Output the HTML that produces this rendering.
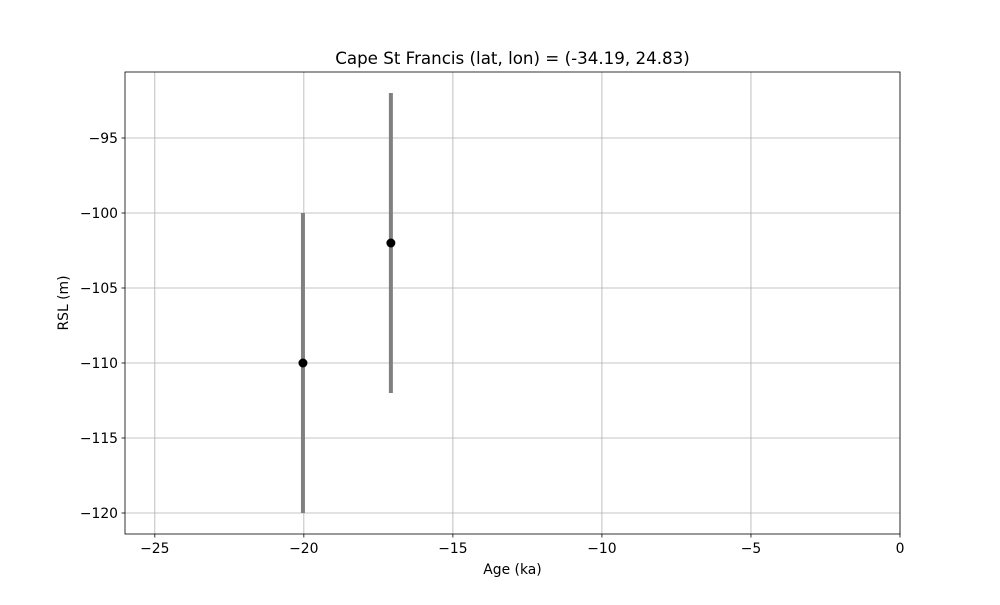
<!DOCTYPE html>
<html><head><meta charset="utf-8"><style>
body{margin:0;background:#fff;font-family:"Liberation Sans","DejaVu Sans",sans-serif;}
text{font-family:"DejaVu Sans","Liberation Sans",sans-serif;}
</style></head><body>
<svg id="chart" width="1000" height="600" xmlns="http://www.w3.org/2000/svg"></svg>
<script>
const ages = [-20.03, -17.08];
const rsl = [-110, -102];
const errLow = [10, 10];
const errHigh = [10, 10];
const xTicks = [-25, -20, -15, -10, -5, 0];
const yTicks = [-95, -100, -105, -110, -115, -120];

const L=125,R=900,T=72,B=534;
const xmin=-26,xmax=0,ymin=-121.4,ymax=-90.6;
const sx=v=>L+(v-xmin)/(xmax-xmin)*(R-L);
const sy=v=>B-(v-ymin)/(ymax-ymin)*(B-T);
const svg=document.getElementById('chart');
const NS='http://www.w3.org/2000/svg';
function mk(tag,attrs,parent){const e=document.createElementNS(NS,tag);for(const k in attrs)e.setAttribute(k,attrs[k]);(parent||svg).appendChild(e);return e;}

xTicks.forEach(t=>{
  const g=mk('line',{x1:sx(t),x2:sx(t),y1:T,y2:B,stroke:'#b0b0b0','stroke-width':0.8});
  
  
  mk('line',{x1:sx(t),x2:sx(t),y1:B,y2:B+3.5,stroke:'#000','stroke-width':0.8});
  const tx=mk('text',{x:sx(t),y:B+19,'text-anchor':'middle','font-size':13.9});
  tx.textContent=(t<0?'\u2212'+(-t):t);
  
  
});
yTicks.forEach(t=>{
  const g=mk('line',{x1:L,x2:R,y1:sy(t),y2:sy(t),stroke:'#b0b0b0','stroke-width':0.8});
  
  
  mk('line',{x1:L-3.5,x2:L,y1:sy(t),y2:sy(t),stroke:'#000','stroke-width':0.8});
  const tx=mk('text',{x:L-7,y:sy(t)+5,'text-anchor':'end','font-size':13.9});
  tx.textContent='\u2212'+(-t);
  
  
});
ages.forEach((a,i)=>{
  const e=mk('line',{x1:sx(a),x2:sx(a),y1:sy(rsl[i]+errHigh[i]),y2:sy(rsl[i]-errLow[i]),stroke:'#808080','stroke-width':4});
  
  
});
ages.forEach((a,i)=>{
  const p=mk('circle',{cx:sx(a),cy:sy(rsl[i]),r:4.5,fill:'#000'});
  
  
});
const frame=mk('rect',{x:L,y:T,width:R-L,height:B-T,fill:'none',stroke:'#000','stroke-width':0.8});


const title=mk('text',{x:(L+R)/2,y:64,'text-anchor':'middle','font-size':16.7});
title.textContent='Cape St Francis (lat, lon) = (-34.19, 24.83)';


const xl=mk('text',{x:(L+R)/2,y:574,'text-anchor':'middle','font-size':13.9});
xl.textContent='Age (ka)';


const yl=mk('text',{x:0,y:0,'text-anchor':'middle','font-size':13.9,transform:'translate(68,303) rotate(-90)'});
yl.textContent='RSL (m)';


</script>
</body></html>
